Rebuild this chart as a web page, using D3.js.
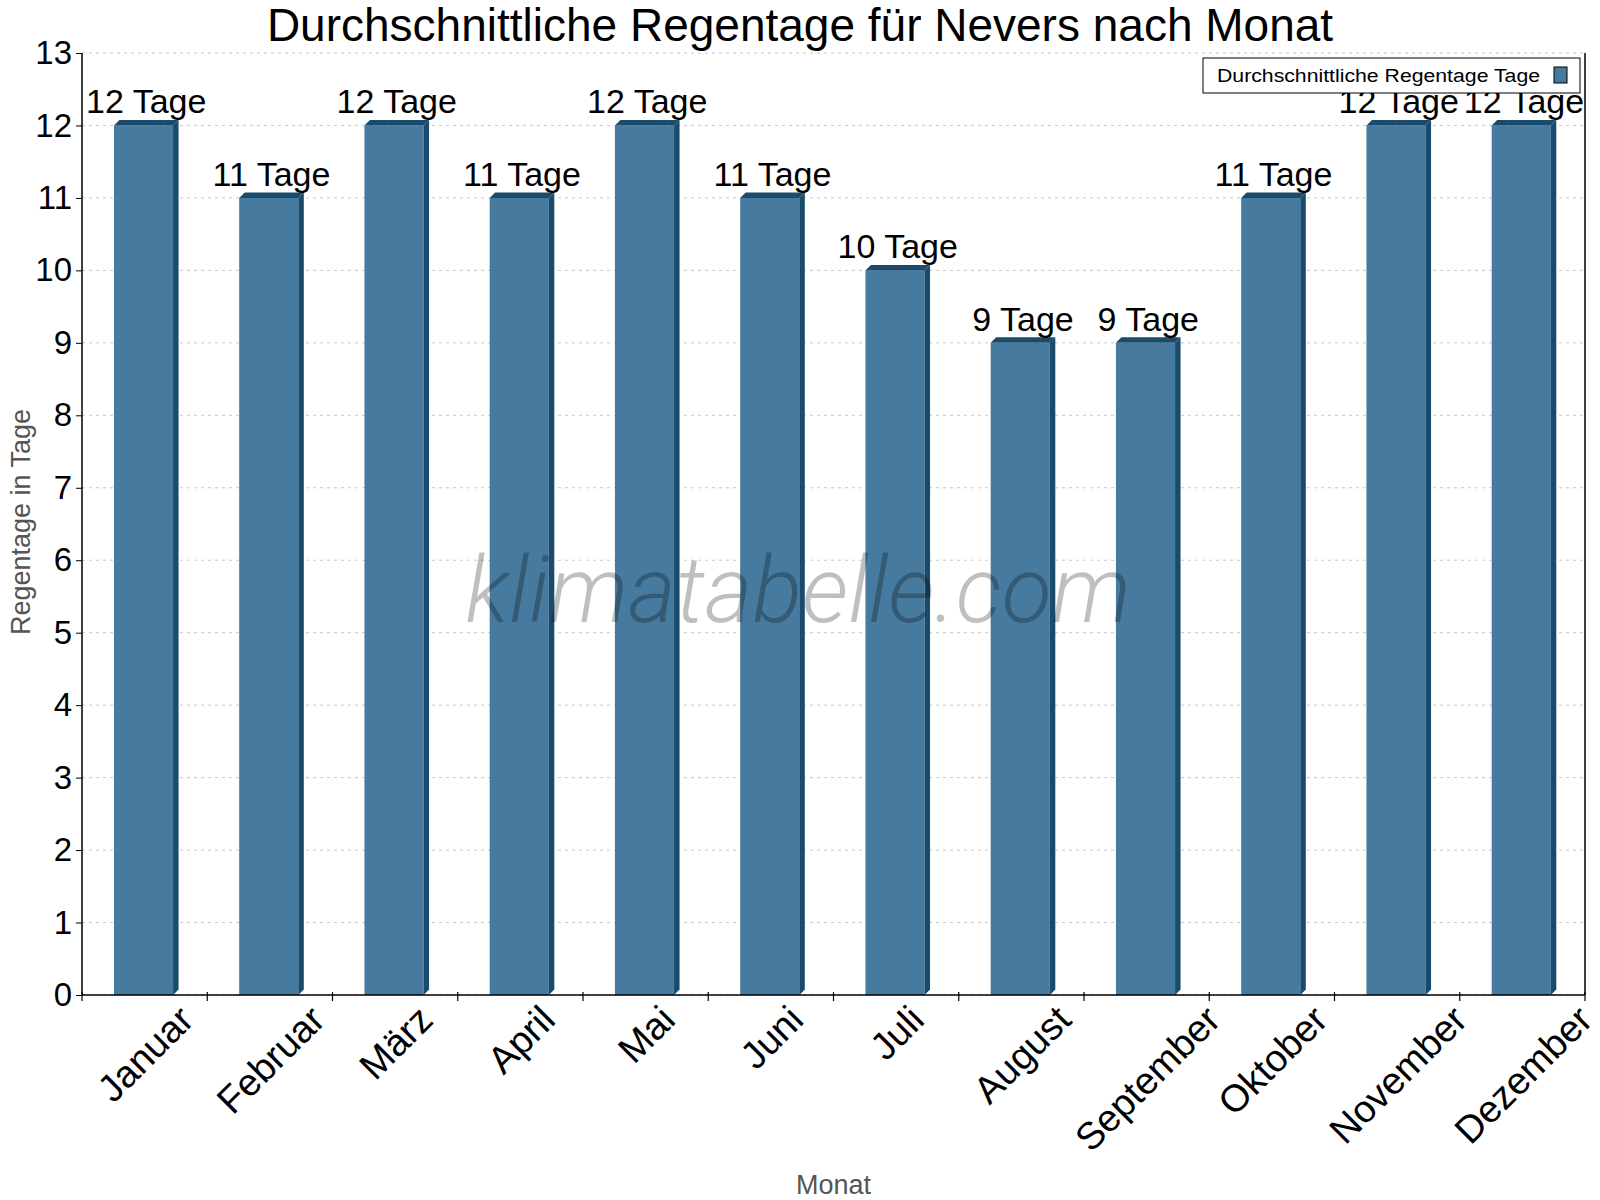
<!DOCTYPE html>
<html lang="de">
<head>
    <meta charset="UTF-8">
    <title>Durchschnittliche Regentage für Nevers nach Monat</title>
    <script src="https://d3js.org/d3.v7.min.js"></script>
    <style>
        body { margin: 0; background: #fff; }
        svg { display: block; font-family: "Liberation Sans", Arial, sans-serif; }
        .grid line { stroke: #c8c8c8; stroke-dasharray: 3,4; }
        .axis path, .axis line { stroke: #000; }
    </style>
</head>
<body>
    <svg width="1600" height="1200"></svg>
    <script>
        // Daten
        const months = ['Januar', 'Februar', 'März', 'April', 'Mai', 'Juni', 'Juli', 'August', 'September', 'Oktober', 'November', 'Dezember'];
        const rainDays = [12, 11, 12, 11, 12, 11, 10, 9, 9, 11, 12, 12];
        const yTicks = d3.range(0, 14);

        const svg = d3.select('svg');
        const margin = { top: 53, right: 15, bottom: 205, left: 82 };
        const width = 1600, height = 1200;
        const plotW = width - margin.left - margin.right;
        const plotH = height - margin.top - margin.bottom;

        const x = d3.scaleBand().domain(months).range([0, plotW]);
        const y = d3.scaleLinear().domain([0, 13]).range([plotH, 0]);

        const front = '#467a9e';
        const dark = '#1a4b6d';
        const depth = 5.5;

        const g = svg.append('g').attr('transform', `translate(${margin.left},${margin.top})`);

        // Gitterlinien
        g.append('g').attr('class', 'grid')
            .selectAll('line').data(yTicks).join('line')
            .attr('x1', 0).attr('x2', plotW)
            .attr('y1', d => y(d)).attr('y2', d => y(d));

        // Balken (mit Pseudo-3D-Kante)
        const bw = x.bandwidth();
        const bars = g.append('g').selectAll('g').data(months).join('g');
        bars.each(function (m, i) {
            const sel = d3.select(this);
            const x0 = x(m) + bw * 0.255;
            const x1 = x0 + bw * 0.472;
            const yt = y(rainDays[i]);
            const yb = y(0);
            sel.append('rect').attr('x', x0).attr('y', yt).attr('width', x1 - x0).attr('height', yb - yt).attr('fill', front);
            sel.append('path').attr('fill', dark)
                .attr('d', `M${x1},${yt}L${x1 + depth},${yt - depth}L${x1 + depth},${yb - depth}L${x1},${yb}Z`);
            sel.append('path').attr('fill', dark)
                .attr('d', `M${x0},${yt}L${x0 + depth},${yt - depth}L${x1 + depth},${yt - depth}L${x1},${yt}Z`);
            sel.append('text')
                .attr('x', (x0 + x1 + depth) / 2)
                .attr('y', yt - 12)
                .attr('text-anchor', 'middle')
                .attr('font-size', 34)
                .attr('fill', '#000')
                .text(rainDays[i] + ' Tage');
        });

        // Wasserzeichen
        svg.append('text')
            .attr('x', 798).attr('y', 622)
            .attr('text-anchor', 'middle')
            .attr('font-family', 'Roboto')
            .attr('font-weight', 300)
            .attr('font-style', 'italic')
            .attr('font-size', 92)
            .attr('fill', '#000')
            .attr('fill-opacity', 0.25)
            .text('klimatabelle.com');

        // Achsen
        g.append('line').attr('x1', 0).attr('x2', plotW).attr('y1', plotH).attr('y2', plotH).attr('stroke', '#000').attr('stroke-width', 1.5);
        g.append('line').attr('x1', 0).attr('x2', 0).attr('y1', 0).attr('y2', plotH).attr('stroke', '#000').attr('stroke-width', 1.5);
        g.append('line').attr('x1', plotW).attr('x2', plotW).attr('y1', 0).attr('y2', plotH).attr('stroke', '#000').attr('stroke-width', 1.5);

        const yAxis = g.append('g').attr('class', 'axis')
            .call(d3.axisLeft(y).tickValues(yTicks).tickFormat(d3.format('d')).tickSize(6).tickPadding(4));
        yAxis.select('.domain').remove();
        yAxis.selectAll('text').attr('font-size', 33).attr('font-family', '"Liberation Sans", Arial, sans-serif').attr('fill', '#000');

        // X-Ticks an den Kategoriegrenzen
        const bounds = months.map(m => x(m)).concat([plotW]);
        g.append('g').selectAll('line').data(bounds).join('line')
            .attr('x1', d => d).attr('x2', d => d)
            .attr('y1', plotH - 3).attr('y2', plotH + 6)
            .attr('stroke', '#000').attr('stroke-width', 1.2);

        // Monatsbeschriftung: um -45° gedreht, Box mittig unter der Kategorie
        g.append('g').selectAll('text').data(months).join('text')
            .attr('text-anchor', 'end')
            .attr('font-size', 38)
            .attr('fill', '#000')
            .text(m => m)
            .attr('transform', function (m) {
                const w = this.getComputedTextLength();
                return `translate(${x(m) + bw / 2 + w * 0.3535 + 10},${plotH + 27}) rotate(-45)`;
            });

        // Titel
        svg.append('text')
            .attr('x', 800).attr('y', 41)
            .attr('text-anchor', 'middle')
            .attr('font-size', 46)
            .attr('fill', '#000')
            .text('Durchschnittliche Regentage für Nevers nach Monat');

        // Achsentitel
        svg.append('text')
            .attr('transform', `translate(30,522) rotate(-90)`)
            .attr('text-anchor', 'middle')
            .attr('font-size', 27)
            .attr('fill', '#555')
            .text('Regentage in Tage');

        svg.append('text')
            .attr('x', margin.left + plotW / 2).attr('y', 1194)
            .attr('text-anchor', 'middle')
            .attr('font-size', 27)
            .attr('fill', '#555')
            .text('Monat');

        // Legende
        const leg = svg.append('g').attr('transform', 'translate(1203,58)');
        leg.append('rect').attr('width', 377).attr('height', 35).attr('fill', '#fff').attr('stroke', '#000').attr('stroke-width', 1);
        leg.append('text').attr('x', 14).attr('y', 24).attr('font-size', 18)
            .attr('textLength', 323).attr('lengthAdjust', 'spacingAndGlyphs')
            .attr('fill', '#000')
            .text('Durchschnittliche Regentage Tage');
        leg.append('rect').attr('x', 351).attr('y', 9).attr('width', 13).attr('height', 16)
            .attr('fill', front).attr('stroke', '#000').attr('stroke-width', 1);
    </script>
</body>
</html>
